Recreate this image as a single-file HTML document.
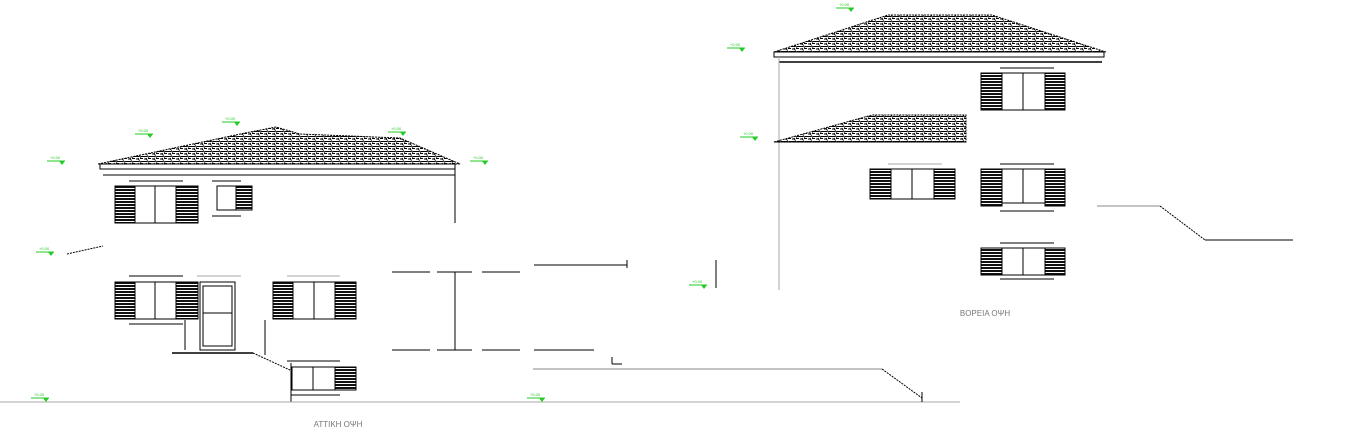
<!DOCTYPE html>
<html><head><meta charset="utf-8"><style>body{margin:0;background:#fff}svg{display:block}</style></head><body>
<svg width="1346" height="438" viewBox="0 0 1346 438" xmlns="http://www.w3.org/2000/svg" font-family="Liberation Sans, sans-serif">
<defs>
<pattern id="tile" width="8" height="5" patternUnits="userSpaceOnUse">
<rect width="8" height="5" fill="#fff"/>
<path d="M0 1.5 h3 M3 0.5 l2 2 M5 1.5 h3 M0 4 h2 M4 3.5 h3 M2 3 l1 2" stroke="#000" stroke-width="1.1"/>
</pattern>
<pattern id="shut" width="4" height="3" patternUnits="userSpaceOnUse">
<rect width="4" height="3" fill="#fff"/><rect width="4" height="2" fill="#111"/>
</pattern>
<g id="gm"><path d="M0 0 h18" stroke="#2c2" stroke-width="1"/><path d="M12 0 l3 4 l3 -4z" fill="#2c2"/><text x="3" y="-2" font-size="4" fill="#2c2">+0.00</text></g>
</defs>
<g fill="none" stroke="#000" stroke-width="1">
<polygon points="98,164 245,133 276,127 300,134 400,138 460,164" fill="url(#tile)" stroke="#000" stroke-dasharray="2,1"/>
<rect x="100" y="164" width="355" height="5"/>
<line x1="103" y1="175" x2="455" y2="175"/>
<line x1="455" y1="169" x2="455" y2="223"/>
<line x1="129" y1="181" x2="183" y2="181"/>
<rect x="115" y="186" width="20" height="37" fill="url(#shut)"/>
<rect x="135" y="186" width="41" height="37"/><line x1="155" y1="186" x2="155" y2="223"/>
<rect x="176" y="186" width="22" height="37" fill="url(#shut)"/>
<line x1="212" y1="181" x2="241" y2="181"/>
<rect x="217" y="186" width="35" height="24"/><rect x="236" y="187" width="16" height="23" fill="url(#shut)"/>
<line x1="212" y1="216" x2="241" y2="216"/>
<polyline points="67,254 103,246" stroke-dasharray="2,1"/>
<line x1="129" y1="276" x2="183" y2="276"/>
<rect x="115" y="282" width="20" height="37" fill="url(#shut)"/>
<rect x="135" y="282" width="41" height="37"/><line x1="155" y1="282" x2="155" y2="319"/>
<rect x="176" y="282" width="22" height="37" fill="url(#shut)"/>
<line x1="129" y1="324" x2="183" y2="324"/>
<rect x="200" y="282" width="35" height="68"/><rect x="203" y="286" width="29" height="60"/><line x1="203" y1="313" x2="232" y2="313"/>
<line x1="185" y1="320" x2="185" y2="350"/>
<line x1="172" y1="353" x2="253" y2="353" stroke-width="1.5"/>
<line x1="197" y1="276" x2="241" y2="276" stroke="#aaa"/>
<line x1="287" y1="276" x2="340" y2="276" stroke="#aaa"/>
<rect x="273" y="282" width="20" height="37" fill="url(#shut)"/>
<rect x="293" y="282" width="42" height="37"/><line x1="314" y1="282" x2="314" y2="319"/>
<rect x="335" y="282" width="21" height="37" fill="url(#shut)"/>
<line x1="265" y1="320" x2="265" y2="355"/>
<polyline points="253,353 290,370" stroke-dasharray="2,1"/>
<line x1="287" y1="361" x2="340" y2="361"/>
<rect x="292" y="367" width="64" height="23"/><line x1="313" y1="367" x2="313" y2="390"/>
<rect x="335" y="367" width="21" height="23" fill="url(#shut)"/>
<line x1="291" y1="363" x2="291" y2="402"/>
<line x1="291" y1="395" x2="340" y2="395"/>
<line x1="0" y1="402" x2="960" y2="402" stroke="#aaa"/>
<line x1="392" y1="272" x2="430" y2="272"/><line x1="437" y1="272" x2="472" y2="272"/><line x1="482" y1="272" x2="520" y2="272"/>
<line x1="392" y1="350" x2="430" y2="350"/><line x1="437" y1="350" x2="472" y2="350"/><line x1="482" y1="350" x2="520" y2="350"/>
<line x1="455" y1="272" x2="455" y2="350"/>
<line x1="534" y1="265" x2="627" y2="265"/><line x1="627" y1="260" x2="627" y2="268"/>
<line x1="534" y1="350" x2="594" y2="350"/>
<line x1="612" y1="357" x2="612" y2="364"/><line x1="612" y1="364" x2="622" y2="364"/>
<line x1="533" y1="369" x2="882" y2="369" stroke="#888"/>
<polyline points="882,369 922,398" stroke-dasharray="2,1"/>
<line x1="922" y1="392" x2="922" y2="402"/>
<polygon points="774,52 888,15 992,15 1106,52" fill="url(#tile)" stroke-dasharray="2,1"/>
<rect x="774" y="52" width="330" height="5"/>
<line x1="779" y1="62" x2="1102" y2="62" stroke-width="1.5"/>
<line x1="779" y1="57" x2="779" y2="290" stroke="#aaa"/>
<polygon points="774,142 872,115 966,115 966,142" fill="url(#tile)" stroke-dasharray="2,1"/>
<line x1="774" y1="142" x2="966" y2="142"/>
<line x1="1000" y1="68" x2="1054" y2="68"/>
<rect x="981" y="73" width="21" height="37" fill="url(#shut)"/><rect x="1002" y="73" width="43" height="37"/><line x1="1023" y1="73" x2="1023" y2="110"/><rect x="1045" y="73" width="20" height="37" fill="url(#shut)"/>
<line x1="1000" y1="164" x2="1054" y2="164"/>
<rect x="981" y="169" width="21" height="37" fill="url(#shut)"/><rect x="1002" y="169" width="43" height="34"/><line x1="1023" y1="169" x2="1023" y2="203"/><rect x="1045" y="169" width="20" height="37" fill="url(#shut)"/>
<line x1="1000" y1="211" x2="1054" y2="211"/>
<line x1="888" y1="164" x2="942" y2="164" stroke="#aaa"/>
<rect x="870" y="169" width="21" height="30" fill="url(#shut)"/><rect x="891" y="169" width="43" height="30"/><line x1="912" y1="169" x2="912" y2="199"/><rect x="934" y="169" width="21" height="30" fill="url(#shut)"/>
<line x1="1000" y1="243" x2="1054" y2="243"/>
<rect x="981" y="248" width="21" height="27" fill="url(#shut)"/><rect x="1002" y="248" width="43" height="27"/><line x1="1023" y1="248" x2="1023" y2="275"/><rect x="1045" y="248" width="20" height="27" fill="url(#shut)"/>
<line x1="1000" y1="279" x2="1054" y2="279"/>
<line x1="1097" y1="206" x2="1160" y2="206" stroke="#888"/>
<polyline points="1160,206 1205,240" stroke-dasharray="2,1"/>
<line x1="1205" y1="240" x2="1293" y2="240"/>
<line x1="716" y1="260" x2="716" y2="288"/>
</g>
<use href="#gm" x="47" y="161"/><use href="#gm" x="135" y="134"/><use href="#gm" x="222" y="122"/>
<use href="#gm" x="388" y="132"/><use href="#gm" x="470" y="161"/><use href="#gm" x="36" y="252"/>
<use href="#gm" x="31" y="398"/><use href="#gm" x="527" y="398"/><use href="#gm" x="689" y="285"/>
<use href="#gm" x="727" y="48"/><use href="#gm" x="836" y="8"/><use href="#gm" x="740" y="137"/>
<text x="338" y="427" font-size="8" fill="#777" text-anchor="middle">ΑΤΤΙΚΗ ΟΨΗ</text>
<text x="985" y="316" font-size="8" fill="#777" text-anchor="middle">ΒΟΡΕΙΑ ΟΨΗ</text>
</svg>
</body></html>
